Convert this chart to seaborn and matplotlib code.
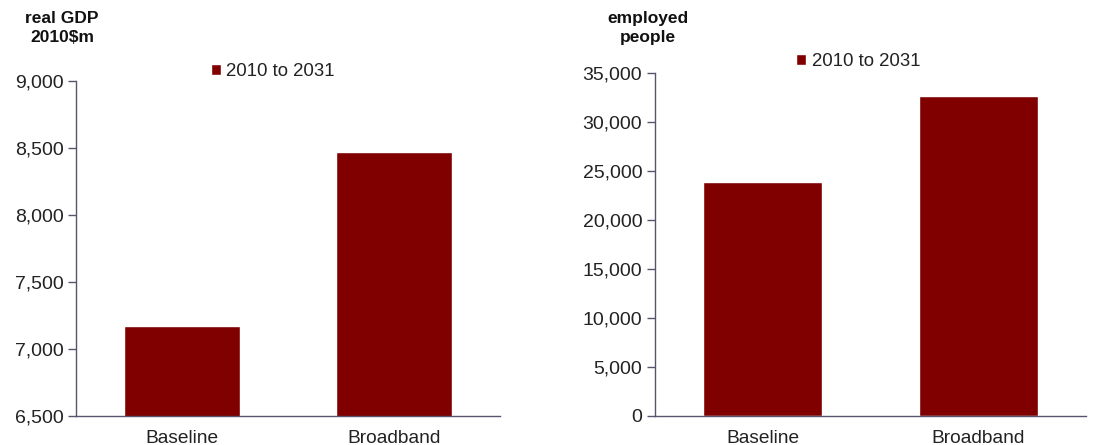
import matplotlib
matplotlib.use("Agg")
import matplotlib.pyplot as plt
import seaborn as sns
import pandas as pd
from matplotlib.ticker import FuncFormatter, MultipleLocator

categories = ["Baseline", "Broadband"]
gdp_values = [7172, 8470]
employment_values = [23900, 32650]
series_label = "2010 to 2031"

sns.set_theme(style="white")
plt.rcParams['font.family'] = ['Liberation Sans', 'DejaVu Sans']

bar_color = "#800000"
axis_color = "#55556e"
text_color = "#222222"

fig = plt.figure(figsize=(10.93, 4.45), dpi=100)
ax1 = fig.add_axes([0.0695, 0.0652, 0.388, 0.753])
ax2 = fig.add_axes([0.599, 0.0652, 0.395, 0.771])

fmt = FuncFormatter(lambda v, p: f"{int(v):,}")

for ax, vals, lo, hi, step in [(ax1, gdp_values, 6500, 9000, 500),
                               (ax2, employment_values, 0, 35000, 5000)]:
    df = pd.DataFrame({"cat": categories, "val": vals})
    sns.barplot(data=df, x="cat", y="val", color=bar_color, saturation=1,
                width=0.55, ax=ax, label=series_label)
    ax.set_ylim(lo, hi)
    ax.yaxis.set_major_locator(MultipleLocator(step))
    ax.yaxis.set_major_formatter(fmt)
    ax.set_xlabel("")
    ax.set_ylabel("")
    for s in ["top", "right"]:
        ax.spines[s].set_visible(False)
    for s in ["left", "bottom"]:
        ax.spines[s].set_color(axis_color)
        ax.spines[s].set_linewidth(1.0)
    ax.tick_params(axis="y", which="major", left=True, length=6, width=1,
                   color=axis_color, labelsize=14, labelcolor=text_color, pad=3)
    ax.tick_params(axis="x", bottom=False, labelsize=13.8, labelcolor=text_color, pad=4)
    ax.set_xlim(-0.5, 1.5)

leg1 = ax1.legend(loc="upper left", bbox_to_anchor=(0.30, 1.075), frameon=False,
                  fontsize=13.4, handlelength=0.55, handleheight=0.55, handletextpad=0.3,
                  borderaxespad=0)
leg2 = ax2.legend(loc="upper left", bbox_to_anchor=(0.31, 1.08), frameon=False,
                  fontsize=13.4, handlelength=0.55, handleheight=0.55, handletextpad=0.3,
                  borderaxespad=0)
for leg in (leg1, leg2):
    for t in leg.get_texts():
        t.set_color(text_color)

fig.text(62/1093, 1 - 28/445, "real GDP\n2010$m", ha="center", va="center",
         fontsize=12.5, fontweight="bold", color="#111111", linespacing=1.3)
fig.text(648/1093, 1 - 28/445, "employed\npeople", ha="center", va="center",
         fontsize=12.5, fontweight="bold", color="#111111", linespacing=1.3)

fig.savefig("out.png", dpi=100, facecolor="white")
